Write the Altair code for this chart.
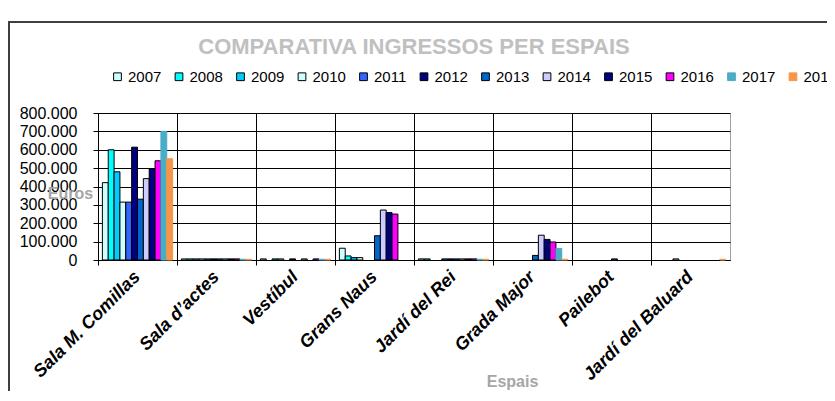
import altair as alt
import pandas as pd

years = ['2007', '2008', '2009', '2010', '2011', '2012', '2013', '2014', '2015', '2016', '2017', '2018']
categories = ['Sala M. Comillas', 'Sala d\u2019actes', 'Vest\u00edbul', 'Grans Naus',
              'Jard\u00ed del Rei', 'Grada Major', 'Pailebot', 'Jard\u00ed del Baluard']

sala_comillas = [421000, 600000, 480000, 315000, 315000, 614000, 331000, 443000, 495000, 540000, 700000, 551000]
sala_actes = [6000, 6000, 6000, 6000, 6000, 6000, 6000, 6000, 6000, 6000, 4000, 4000]
vestibul = [6000, 0, 6000, 6000, 0, 6000, 0, 6000, 0, 6000, 4000, 4000]
grans_naus = [64000, 22000, 13000, 13000, 0, 0, 132000, 272000, 258000, 250000, 0, 0]
jardi_rei = [6000, 6000, 0, 0, 6000, 6000, 6000, 6000, 6000, 6000, 4000, 4000]
grada_major = [0, 0, 0, 0, 0, 0, 25000, 135000, 112000, 98000, 63000, 4000]
pailebot = [0, 0, 0, 0, 0, 0, 6000, 0, 0, 0, 0, 0]
jardi_baluard = [0, 0, 0, 6000, 0, 0, 0, 0, 0, 0, 0, 4000]

series = [sala_comillas, sala_actes, vestibul, grans_naus, jardi_rei, grada_major, pailebot, jardi_baluard]

fill_colors = ['#CCFFFF', '#00FFFF', '#00CCFF', '#CCFFFF', '#3366FF', '#000080',
               '#0066CC', '#CCCCFF', '#000080', '#FF00FF', '#4BACC6', '#F79646']
stroke_colors = ['#000000'] * 10 + ['#4BACC6', '#F79646']

rows = []
for cat, vals in zip(categories, series):
    for yr, v in zip(years, vals):
        if v > 0:
            rows.append({'Espai': cat, 'Any': yr, 'Euros': v})
df = pd.DataFrame(rows)

FONT = 'Liberation Sans'

legend = alt.Legend(
    title=None, orient='none', legendX=12, legendY=-44, direction='horizontal',
    columns=12, symbolType='square', symbolSize=60, symbolStrokeWidth=1,
    labelFont=FONT, labelFontSize=15, labelColor='#000000', labelOffset=3,
    columnPadding=9.5,
)

bars = alt.Chart(df).mark_bar(strokeWidth=1).encode(
    x=alt.X('Espai:N', sort=categories,
            scale=alt.Scale(domain=categories, paddingInner=0, paddingOuter=0),
            axis=alt.Axis(title='Espais', bandPosition=0,
                          labelAngle=-45, labelAlign='right', labelBaseline='middle',
                          labelFont=FONT, labelFontSize=18, labelFontWeight='bold',
                          labelFontStyle='italic', labelColor='#000000', labelPadding=9,
                          tickSize=5, tickColor='#000000', domainColor='#000000',
                          grid=True, gridColor='#000000', gridWidth=1,
                          titleFont=FONT, titleFontSize=16, titleFontWeight='bold',
                          titleColor='#A6A6A6', titleX=414, titleY=121,
                          titleAlign='center', titleBaseline='middle')),
    xOffset=alt.XOffset('Any:N', sort=years,
                        scale=alt.Scale(domain=years, paddingInner=0, paddingOuter=0.75)),
    y=alt.Y('Euros:Q', scale=alt.Scale(domain=[0, 800000]),
            axis=alt.Axis(title='Euros', values=list(range(0, 800001, 100000)),
                          labelExpr="replace(format(datum.value, ','), ',', '.')",
                          labelFont=FONT, labelFontSize=16, labelColor='#000000',
                          labelPadding=16, tickSize=5, tickColor='#000000',
                          domainColor='#000000', grid=True, gridColor='#000000',
                          gridWidth=1,
                          titleFont=FONT, titleFontSize=16, titleFontWeight='bold',
                          titleColor='#A6A6A6', titleAngle=0, titleX=-28, titleY=80,
                          titleAlign='center', titleBaseline='middle')),
    color=alt.Color('Any:N', sort=years, scale=alt.Scale(domain=years, range=fill_colors), legend=legend),
    stroke=alt.Stroke('Any:N', sort=years, scale=alt.Scale(domain=years, range=stroke_colors), legend=legend),
)

frame = alt.Chart(pd.DataFrame({'f': [0]})).mark_rect(
    fill=None, stroke='#404040', strokeWidth=2
).encode(x=alt.value(-89), x2=alt.value(760), y=alt.value(-91), y2=alt.value(320))

chart = alt.layer(frame, bars).properties(
    width=632, height=147,
    title=alt.TitleParams('COMPARATIVA INGRESSOS PER ESPAIS', font=FONT, fontSize=22,
                          fontWeight='bold', color='#C0C0C0', anchor='middle', offset=-38),
    autosize=alt.AutoSizeParams(type='none'),
    padding={'left': 90, 'top': 105, 'right': 97, 'bottom': 131},
).configure_view(stroke='#A0A0A0', strokeWidth=1)

chart.save('out.html', embed_options={'renderer': 'svg', 'actions': False})
